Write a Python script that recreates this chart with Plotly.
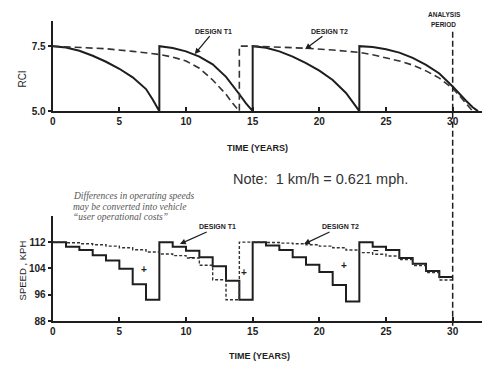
import plotly.graph_objects as go

W, H = 483, 370

# ---------------- data ----------------
# Top panel: RCI vs time
t1_rci_t = [0, 1, 2, 3, 4, 5, 6, 7, 7.5, 7.75, 8,
            8, 9, 10, 11, 12, 13, 14, 14.5, 15,
            15, 16, 17, 18, 19, 20, 21, 22, 22.5, 23,
            23, 24, 25, 26, 27, 28, 29, 30, 31, 31.5, 31.9]
t1_rci = [7.5, 7.45, 7.32, 7.13, 6.9, 6.63, 6.3, 5.85, 5.45, 5.25, 5.0,
          7.5, 7.43, 7.3, 7.1, 6.8, 6.32, 5.65, 5.3, 5.0,
          7.5, 7.44, 7.3, 7.1, 6.85, 6.56, 6.2, 5.7, 5.37, 5.0,
          7.5, 7.47, 7.38, 7.25, 7.05, 6.78, 6.45, 5.95, 5.4, 5.15, 5.0]

t2_rci_t = [0, 2, 4, 6, 8, 9, 10, 11, 12, 13, 13.5, 14,
            14, 15,
            15, 17, 19, 21, 23, 24, 25, 26, 27, 28, 29, 30, 30.5, 31, 31.5]
t2_rci = [7.5, 7.46, 7.4, 7.3, 7.18, 7.08, 6.93, 6.65, 6.2, 5.65, 5.3, 5.0,
          7.5, 7.5,
          7.5, 7.46, 7.42, 7.35, 7.26, 7.17, 7.06, 6.93, 6.77, 6.55, 6.27, 5.88, 5.6, 5.3, 5.0]

# Bottom panel: speed (km/h) per year, step function
years = list(range(0, 31))
t1_speed = [112, 110.6, 109.6, 108.0, 106.4, 103.9, 99.2, 94.5,
            112, 110.6, 109.4, 107.4, 104.7, 100.3, 94.5,
            112, 111.0, 109.6, 107.4, 105.1, 102.9, 99.0, 94.0,
            112, 110.6, 109.6, 107.2, 105.4, 103.2, 101.4, 101.4]
t2_speed = [112.0, 111.8, 111.5, 111.2, 110.8, 110.3, 109.7, 109.0,
            108.4, 107.9, 107.2, 105.0, 100.6, 94.5,
            112.0, 112.0, 111.9, 111.7, 111.5, 111.2, 110.8, 110.3, 109.6,
            108.8, 108.3, 107.8, 106.7, 104.9, 102.8, 100.5, 100.5]

x_ticks = [0, 5, 10, 15, 20, 25, 30]
rci_ticks = [5.0, 7.5]
rci_tick_text = ["5.0", "7.5"]
speed_ticks = [88, 96, 104, 112]
speed_tick_text = ["88", "96", "104", "112"]

# ---------------- figure ----------------
INK = "#1e1e1e"
fig = go.Figure()

fig.add_trace(go.Scatter(x=t1_rci_t, y=t1_rci, mode="lines", line=dict(color=INK, width=2),
                         xaxis="x", yaxis="y", showlegend=False, hoverinfo="skip"))
fig.add_trace(go.Scatter(x=t2_rci_t, y=t2_rci, mode="lines",
                         line=dict(color="#333", width=1.6, dash="7px,4px"),
                         xaxis="x", yaxis="y", showlegend=False, hoverinfo="skip"))

fig.add_trace(go.Scatter(x=years, y=t1_speed, mode="lines", line=dict(color=INK, width=2, shape="hv"),
                         xaxis="x2", yaxis="y2", showlegend=False, hoverinfo="skip"))
fig.add_trace(go.Scatter(x=years, y=t2_speed, mode="lines",
                         line=dict(color="#333", width=1.4, dash="3px,2px", shape="hv"),
                         xaxis="x2", yaxis="y2", showlegend=False, hoverinfo="skip"))


def px(x):
    return x / W


def py(y):
    return 1 - y / H


tickfont = dict(family="Liberation Sans", size=10, color=INK, weight="bold")
common_x = dict(range=[0, 32.2], domain=[px(50), px(482)], tickvals=x_ticks,
                showline=True, linewidth=2, linecolor=INK, ticks="inside", ticklen=4,
                tickwidth=1.5, tickcolor=INK, showgrid=False, zeroline=False,
                tickfont=tickfont, fixedrange=True)
common_y = dict(showline=True, linewidth=2, linecolor=INK, ticks="outside", ticklen=3,
                tickwidth=1.5, tickcolor=INK, showgrid=False, zeroline=False,
                tickfont=tickfont, fixedrange=True)

fig.update_layout(
    width=W, height=H, margin=dict(l=0, r=0, t=0, b=0),
    paper_bgcolor="white", plot_bgcolor="white",
    xaxis=dict(anchor="y", **common_x),
    yaxis=dict(anchor="x", domain=[py(113), py(21)], range=[5.0, 8.48],
               tickvals=rci_ticks, ticktext=rci_tick_text, **common_y),
    xaxis2=dict(anchor="y2", **common_x),
    yaxis2=dict(anchor="x2", domain=[py(326.5), py(220)], range=[88, 119.8],
                tickvals=speed_ticks, ticktext=speed_tick_text, **common_y),
)

# analysis period line
fig.add_shape(type="line", xref="x", x0=30, x1=30, yref="paper", y0=py(331), y1=py(30),
              line=dict(color=INK, width=1.5, dash="6px,3px"))

ann = []


def text(x, y, s, size=9, bold=False, angle=0, color=INK, family="Liberation Sans", xanchor="center",
         italic=False):
    ann.append(dict(x=px(x), y=py(y), xref="paper", yref="paper", text=s, showarrow=False,
                    textangle=angle, xanchor=xanchor, yanchor="middle",
                    font=dict(size=size, color=color, family=family,
                              weight="bold" if bold else "normal",
                              style="italic" if italic else "normal")))


def label_arrow(tx, ty, hx, hy, s):
    ann.append(dict(x=px(hx), y=py(hy), xref="paper", yref="paper", text=s, showarrow=True,
                    ax=tx - hx, ay=ty - hy, arrowhead=2, arrowsize=0.9, arrowwidth=1.3,
                    arrowcolor=INK, standoff=0, startstandoff=0,
                    font=dict(size=7, color=INK, family="Liberation Sans", weight="bold")))


text(20, 80, "RCI", size=10, angle=-90)
text(256, 150, "TIME (YEARS)", size=9, bold=True)
text(319, 182, "Note:  1 km/h = 0.621 mph.", size=14.5, color="#333")
text(68, 199, "Differences in operating speeds", size=9.5, family="Liberation Serif",
     italic=True, xanchor="left", color="#555")
text(68, 210, "may be converted into vehicle", size=9.5, family="Liberation Serif",
     italic=True, xanchor="left", color="#555")
text(68, 221, "\u201cuser operational costs\u201d", size=9.5, family="Liberation Serif",
     italic=True, xanchor="left", color="#555")
text(20, 275, "SPEED , KPH", size=9.5, angle=-90)
text(258, 362, "TIME (YEARS)", size=9, bold=True)
text(444, 15, "ANALYSIS", size=6.5, bold=True)
text(443, 25, "PERIOD", size=6.5, bold=True)

label_arrow(212, 32, 193, 55, "DESIGN T1")
label_arrow(328, 32, 304, 50, "DESIGN T2")
label_arrow(216, 231, 178, 248, "DESIGN T1")
label_arrow(339, 231, 303, 248, "DESIGN T2")

# plus / minus signs (as drawn in the figure)
for (x, y, s) in [(141.7, 274, "+"), (243, 277, "+"), (342.7, 269.5, "+"),
                  (190, 262, "\u2013"), (375, 255, "\u2013")]:
    text(x, y, s, size=10, bold=True)

fig.update_layout(annotations=ann)

fig.write_html("out.html")
